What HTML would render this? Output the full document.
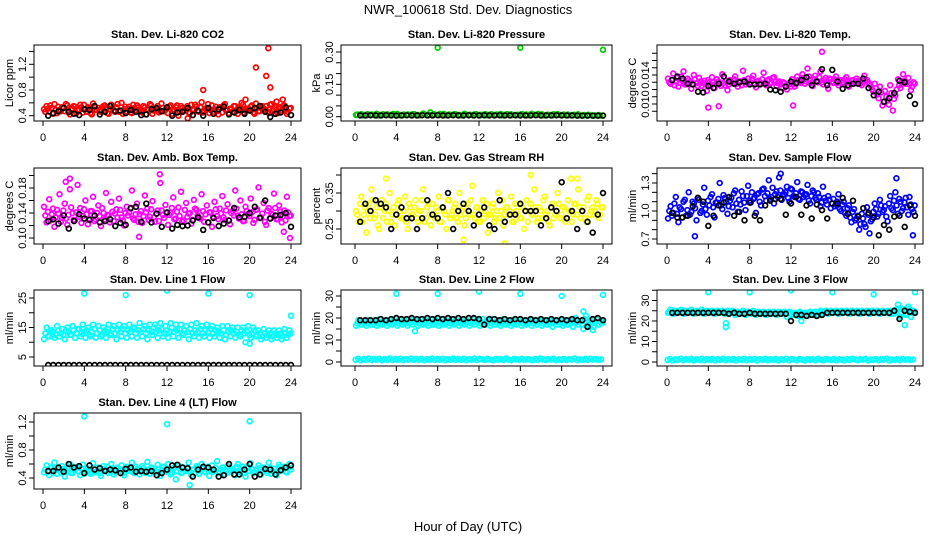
<!DOCTYPE html>
<html><head><meta charset="utf-8"><style>
body{margin:0;background:#fff;}
svg{display:block;font-family:"Liberation Sans",sans-serif;}
</style></head><body>
<svg id="c" width="936" height="540" viewBox="0 0 936 540">
<text x="468" y="14" font-size="13" text-anchor="middle">NWR_100618  Std. Dev. Diagnostics</text>
<text x="468" y="531" font-size="13" text-anchor="middle">Hour of Day (UTC)</text>
</svg>
<script>
const xTickLabels = [0,4,8,12,16,20,24];
const co2Main = [.50,.55,.46,.52,.58,.44,.49,.53,.47,.56,.42,.51,.54,.48,.57,.45,.50,.53,.44,.59,.49,.52,.46,.55,.51,.43,.57,.48,.53,.46,.60,.50,.47,.54,.44,.52,.56,.49,.45,.53,.50,.58,.43,.51,.55,.47,.52,.49,.44,.56,.50,.53,.40,.55,.47,.51,.45,.57,.49,.54,.46,.61,.48,.52,.44,.56,.50,.47,.53,.45,.58,.49,.51,.46,.55,.43,.52,.57,.48,.50,.54,.45,.59,.47,.52,.49,.55,.44,.58,.50,.46,.53,.48,.56,.43,.51];
const co2Alt = [.46,.51,.56,.43,.49,.54,.47,.52,.58,.45,.50,.55,.44,.48,.53,.57,.46,.51,.42,.55,.49,.47,.53,.56,.44,.50,.52,.46,.58,.48,.43,.54,.51,.45,.57,.49,.53,.47,.55,.42,.50,.56,.48,.52,.45,.59,.47,.51,.54,.43,.49,.56,.46,.52,.48,.55,.44,.50,.57,.47,.53,.45,.51,.58,.49,.46,.54,.42,.52,.56,.48,.44,.50,.55,.47,.53,.60,.45,.51,.49,.56,.43,.52,.47,.55,.50,.46,.57,.48,.53,.44,.51,.55,.49,.46,.52];
const co2Black = [.40,.44,.47,.52,.46,.43,.41,.50,.49,.55,.42,.46,.55,.47,.48,.44,.49,.46,.41,.42,.50,.52,.47,.53,.40,.45,.46,.52,.41,.48,.40,.52,.43,.50,.54,.42,.45,.49,.43,.48,.52,.55,.46,.38,.43,.45,.53,.41];
const co2OutX = [15.5,19.6,20.6,21.6,21.8,22.0,22.6,23.2,14.0];
const co2OutY = [0.80,0.65,1.15,1.02,1.45,0.84,0.62,0.65,0.36];

const presMain = [.008,.012,.006,.010,.014,.007,.011,.009,.013,.006,.010,.012,.008,.015,.009,.011,.007,.013,.010,.012,.008,.014,.009,.011,.006,.012,.010,.008,.013,.009,.011,.007,.012,.010,.014,.008,.011,.009,.006,.012,.008,.010,.007,.011,.006,.009,.005,.008];
const presAlt = [.010,.007,.012,.009,.006,.011,.008,.013,.007,.010,.009,.012,.006,.011,.008,.010,.013,.007,.009,.011,.006,.010,.008,.012,.009,.007,.011,.010,.006,.012,.008,.009,.011,.007,.010,.013,.006,.009,.011,.008,.010,.007,.009,.006,.008,.007,.006,.005];
const presBlack = [.006,.006,.007,.006,.006,.007,.006,.005,.006,.007,.006,.006,.007,.006,.006,.007,.006,.006,.007,.006,.006,.007,.006,.006,.007,.006,.006,.007,.006,.006,.007,.006,.006,.006,.007,.006,.006,.006,.007,.006,.006,.006,.005,.005,.005,.005,.005,.005];
const presOutX = [7.3,8,16,24];
const presOutY = [0.02,0.32,0.32,0.31];

const tempMain = [.0135,.0128,.0142,.0131,.0124,.0138,.0145,.0127,.0133,.0121,.0140,.0129,.0136,.0125,.0132,.0118,.0130,.0137,.0122,.0134,.0128,.0141,.0126,.0119,.0133,.0129,.0138,.0124,.0131,.0146,.0127,.0135,.0130,.0139,.0123,.0132,.0128,.0143,.0126,.0134,.0130,.0137,.0125,.0131,.0122,.0129,.0120,.0127,.0134,.0124,.0138,.0131,.0141,.0128,.0149,.0133,.0125,.0139,.0130,.0145,.0127,.0136,.0121,.0134,.0129,.0138,.0126,.0133,.0130,.0137,.0124,.0132,.0128,.0135,.0131,.0126,.0139,.0133,.0127,.0120,.0128,.0113,.0124,.0098,.0118,.0105,.0126,.0091,.0112,.0134,.0122,.0141,.0128,.0136,.0119,.0130];
const tempAlt = [.0130,.0133,.0126,.0136,.0129,.0132,.0127,.0135,.0130,.0128,.0134,.0125,.0131,.0129,.0127,.0133,.0126,.0130,.0128,.0131,.0125,.0129,.0132,.0127,.0130,.0134,.0128,.0131,.0126,.0133,.0130,.0128,.0135,.0127,.0131,.0129,.0134,.0130,.0132,.0128,.0136,.0131,.0129,.0127,.0130,.0125,.0128,.0124,.0130,.0127,.0133,.0129,.0136,.0131,.0138,.0129,.0134,.0132,.0137,.0130,.0133,.0128,.0135,.0131,.0134,.0129,.0132,.0130,.0134,.0131,.0129,.0133,.0130,.0132,.0128,.0131,.0133,.0130,.0125,.0117,.0122,.0108,.0116,.0103,.0110,.0099,.0115,.0107,.0120,.0126,.0129,.0132,.0130,.0127,.0124,.0128];
const tempBlack = [.0133,.0138,.0135,.0128,.0127,.0117,.0116,.0125,.0122,.0128,.0138,.0131,.0128,.0130,.0131,.0127,.0127,.0127,.0128,.0120,.0119,.0117,.0124,.0131,.0129,.0133,.0137,.0126,.0131,.0148,.0126,.0147,.0131,.0121,.0126,.0128,.0128,.0135,.0122,.0112,.0117,.0103,.0108,.0115,.0132,.0130,.0111,.0100];
const tempOutX = [4,5,12.2,15];
const tempOutY = [0.0095,0.0097,0.0098,0.0172];

const ambMain = [.150,.125,.162,.138,.118,.145,.170,.132,.155,.121,.178,.140,.128,.185,.148,.135,.160,.122,.143,.166,.130,.152,.119,.140,.172,.136,.158,.127,.146,.163,.133,.120,.150,.141,.176,.129,.155,.138,.124,.168,.147,.134,.159,.126,.144,.188,.137,.153,.121,.140,.165,.131,.149,.174,.128,.156,.139,.123,.161,.145,.132,.170,.126,.152,.141,.118,.158,.135,.147,.167,.129,.154,.122,.143,.176,.136,.160,.127,.150,.138,.163,.124,.145,.181,.133,.156,.121,.148,.139,.171,.130,.152,.125,.144,.166,.135];
const ambAlt = [.136,.142,.128,.147,.133,.139,.126,.144,.131,.137,.149,.129,.141,.134,.124,.146,.138,.131,.143,.127,.140,.135,.148,.130,.137,.125,.142,.139,.133,.145,.128,.140,.136,.147,.131,.138,.126,.143,.135,.141,.129,.146,.133,.139,.127,.144,.132,.140,.137,.148,.130,.142,.135,.126,.145,.134,.140,.129,.147,.136,.131,.143,.138,.125,.141,.134,.146,.130,.139,.133,.144,.128,.140,.136,.147,.131,.138,.127,.143,.135,.141,.129,.146,.133,.139,.126,.144,.132,.137,.148,.130,.142,.135,.128,.141,.136];
const ambBlack = [.127,.130,.123,.136,.115,.127,.138,.131,.129,.136,.125,.127,.130,.119,.124,.121,.148,.150,.126,.155,.125,.139,.118,.141,.115,.121,.119,.120,.128,.133,.113,.125,.132,.119,.123,.128,.148,.133,.134,.140,.150,.132,.160,.131,.136,.137,.140,.118];
const ambOutX = [2.2,2.6,11.3,9.3,23.3,23.9];
const ambOutY = [0.190,0.195,0.202,0.102,0.110,0.100];

const rhMain = [.30,.27,.34,.29,.24,.32,.36,.28,.31,.25,.33,.30,.27,.35,.29,.26,.32,.30,.28,.34,.25,.31,.29,.33,.27,.30,.36,.28,.32,.26,.29,.31,.34,.27,.30,.25,.33,.29,.31,.28,.35,.30,.26,.32,.29,.37,.28,.31,.27,.33,.30,.24,.29,.32,.28,.35,.30,.26,.31,.29,.34,.27,.30,.32,.28,.25,.33,.30,.29,.36,.27,.31,.28,.34,.30,.26,.32,.29,.35,.28,.31,.27,.33,.30,.29,.32,.36,.28,.31,.27,.34,.30,.29,.33,.28,.31];
const rhAlt = [.29,.32,.27,.31,.30,.28,.33,.29,.26,.31,.28,.32,.30,.27,.31,.29,.33,.28,.30,.27,.32,.29,.31,.28,.30,.33,.27,.31,.29,.32,.28,.30,.27,.31,.29,.33,.28,.30,.32,.27,.29,.31,.28,.30,.33,.29,.31,.27,.30,.28,.32,.29,.31,.27,.30,.28,.33,.29,.31,.30,.27,.32,.29,.28,.31,.30,.27,.32,.29,.31,.28,.30,.33,.29,.27,.31,.28,.30,.32,.29,.31,.28,.30,.27,.32,.29,.31,.30,.28,.33,.29,.31,.30,.32,.29,.31];
const rhBlack = [.27,.32,.30,.33,.32,.31,.25,.29,.31,.28,.28,.25,.28,.33,.29,.28,.31,.35,.25,.30,.32,.30,.26,.29,.31,.26,.25,.33,.27,.29,.29,.32,.30,.30,.30,.26,.28,.31,.30,.38,.28,.30,.25,.30,.27,.24,.29,.35];
const rhOutX = [3.0,10.5,14.5,17.0,20.9,21.5];
const rhOutY = [0.39,0.22,0.21,0.40,0.39,0.39];

const flowMain = [.92,1.05,.98,1.15,.88,1.02,1.10,.95,1.20,.99,1.08,.90,1.12,1.00,1.25,.96,1.06,1.18,.93,1.09,1.30,1.02,1.14,.97,1.11,1.04,1.22,.99,1.07,1.16,1.01,1.27,1.09,1.13,.98,1.19,1.06,1.24,1.11,1.33,1.15,1.08,1.21,1.36,1.12,1.18,1.26,1.10,1.23,1.15,1.31,1.12,1.20,1.17,1.28,1.08,1.22,1.14,1.19,1.05,1.26,1.11,1.16,1.03,1.13,1.07,1.18,1.00,1.10,.95,1.06,.88,1.02,.92,.80,.97,.86,1.04,.76,.91,1.08,.94,1.12,.99,1.05,.89,1.16,1.01,1.20,.97,1.10,1.03,1.14,.96,1.07,.99];
const flowAlt = [1.00,.95,1.08,.97,1.04,.93,1.12,1.01,.96,1.10,1.03,1.14,.98,1.07,1.02,1.11,1.15,1.04,1.09,1.13,1.06,1.17,1.10,1.05,1.14,1.19,1.08,1.12,1.21,1.09,1.16,1.11,1.20,1.14,1.18,1.10,1.23,1.16,1.19,1.13,1.25,1.18,1.15,1.22,1.17,1.20,1.14,1.24,1.16,1.19,1.13,1.21,1.15,1.18,1.11,1.16,1.20,1.12,1.15,1.09,1.14,1.07,1.12,1.08,1.05,1.10,1.02,1.07,.98,1.03,.93,.99,.90,.95,.86,.92,.83,.96,.89,.99,1.02,.97,1.06,1.01,.94,1.08,1.03,1.11,1.06,1.13,1.00,1.09,1.04,1.15,1.02,1.06];
const flowBlack = [.98,.93,.93,.95,1.05,1.14,1.10,.84,.95,1.06,1.09,1.15,.95,.99,.90,1.09,.95,.90,1.06,1.11,1.13,1.13,.96,1.08,1.15,.96,1.06,.92,1.07,1.01,.92,1.08,1.08,1.14,.97,1.11,.94,1.03,.98,.93,.74,.85,.80,.94,.95,.83,1.06,.95];
const flowOutX = [2.7,11.0,22.2,23.8];
const flowOutY = [0.73,1.40,1.35,0.74];

const l1Main = [11,15,12,14,11.5,15.5,12,14.5,11,15,12.5,15.5,11.5,14.5,12,16,11.5,15,12,16,11.5,15.5,12,15,11.5,16,12.5,15.5,11,16,12,15.5,11.5,16,12,15,11.5,16.5,12,15.5,11,16,12.5,16,11.5,16.5,12,15.5,11.5,16.5,12,16,11.5,16,12.5,15.5,11,16,12,16.5,11.5,15.5,12,16,11.5,15.5,12,15,11.5,15.5,11,15.5,12,15,11.5,15,12,15,10,15.5,11.5,15,12,14,11,14.5,11.5,14,11,14,11.5,14,11,14.5,11.5,14];
const l1Alt = [13,12,14,13.5,12.5,14,13,12.5,14,13.5,12.5,14,13,14.5,13,13.5,14,12.5,13.5,14.5,13,14,12.5,14,13.5,13,14.5,13,14,13.5,14.5,13,14,13.5,15,13,14,13.5,14.5,13,14,13.5,15,13.5,14,14.5,13,14,13.5,15,13.5,14,14.5,13,14,13.5,14.5,13,14,13.5,14.5,13,14,13.5,14.5,13,14,13.5,13,14,12.5,13.5,14,13,13.5,12.5,14,13,13.5,12.5,13,14,12.5,13,12,13,12.5,13,12,13,12.5,13,12,13,12.5,13];
const l1Black = [2.3,2.3,2.3,2.3,2.3,2.3,2.3,2.3,2.3,2.3,2.3,2.3,2.3,2.3,2.3,2.3,2.3,2.3,2.3,2.3,2.3,2.3,2.3,2.3,2.3,2.3,2.3,2.3,2.3,2.3,2.3,2.3,2.3,2.3,2.3,2.3,2.3,2.3,2.3,2.3,2.3,2.3,2.3,2.3,2.3,2.3,2.3,2.3];
const l1OutX = [4,8,12,16,20,24,20];
const l1OutY = [26.5,26,27.5,26.5,26,19,9.5];

const l2Main = [16.5,19,17,18.5,16.5,19,17,18.5,16.5,19.5,17,18.5,16.5,19,17,19,16.5,19.5,17,19,16.5,19.5,17,19,16.5,19.5,17,19,16.5,19.5,17,19,16.5,19.5,17,19,16.5,19.5,17,19,16.5,19.5,17,19,16.5,19.5,17,19,16.5,19.5,17,19,16.5,19.5,17,19,16.5,19.5,17,19,16.5,19,17,19,16.5,19,17,19,16.5,19,17,19,16.5,19,17,19,16,19,17,19,16.5,19,17,19,16,20,17,18.5,15,21,17,19,16,19.5,17,19];
const l2Alt = [17.5,18,17.8,18.2,17.6,18,17.9,18.3,17.5,18.1,17.8,18.4,17.6,18,17.9,18.2,17.5,18.3,17.8,18,17.6,18.4,17.9,18.1,17.5,18.2,17.8,18.3,17.6,18,17.9,18.4,17.5,18.1,17.8,18.2,17.6,18.3,17.9,18,17.5,18.4,17.8,18.1,17.6,18.2,17.9,18.3,17.5,18,17.8,18.4,17.6,18.1,17.9,18.2,17.5,18.3,17.8,18,17.6,18.4,17.9,18.1,17.5,18.2,17.8,18.3,17.6,18,17.9,18.4,17.5,18.1,17.8,18.2,17.6,18.3,17.9,18,17.5,18.4,17.8,18.1,17.6,18.2,18.5,17,19.5,16.5,18.5,17.5,18,17,18.5,17.8];
const l2Low = [1,1.5,0.8,1.3,1,1.6,0.9,1.4,1,1.5,0.8,1.3,1,1.6,0.9,1.4,1,1.5,0.8,1.3,1,1.6,0.9,1.4,1,1.5,0.8,1.3,1,1.6,0.9,1.4,1,1.5,0.8,1.3,1,1.6,0.9,1.4,1,1.5,0.8,1.3,1,1.6,0.9,1.4,1.2,0.9,1.5,1.1,0.8,1.4,1.0,1.3,0.9,1.6,1.1,0.8,1.4,1.2,1.0,1.5,0.9,1.3,1.1,0.8,1.4,1.0,1.6,1.2,0.9,1.3,1.1,1.5,0.8,1.2,1.0,1.4,0.9,1.3,1.1,1.6,0.8,1.2,1.0,1.4,0.9,1.5,1.1,1.3,1.0,1.2];
const l2Black = [19,19,19,19,19.5,19,19.5,20,19.5,19.5,20,19.5,19.5,20,19.5,20,19.5,20,19.5,20,19.5,20,20,19.5,17,19.5,19.5,19,19.5,19,19.5,19.5,19,19.5,19,19.5,19,19.5,19,19.5,19,19.5,19,19,16,19.5,20,19];
const l2OutX = [4,8,12,16,20,24,5.8,22.1,23];
const l2OutY = [31,31,32,31,30,30.5,14,23,14.5];

const l3Main = [24,25.5,23.5,25,24,25.5,23.5,25,24,25.5,23.5,25,24,25.5,23.5,25,24,25,23.5,25,24,25,23.5,25,24,25,23,24.5,23.5,25,23,24.5,23.5,25,23,24.5,23.5,24.5,23,24.5,23.5,24.5,23,24.5,23.5,24.5,22,24.5,23,24,22.5,24.5,23,24,22.5,24.5,23,24.5,23,25,23.5,25,23.5,25,24,25,23.5,25,24,25,23.5,25,24,25,23.5,25,24,25,23.5,25,24,25,23.5,25,24,25,23.5,25,24,28,22,26,23,27,22,25];
const l3Alt = [24.6,24.3,24.8,24.4,24.7,24.2,24.6,24.4,24.8,24.3,24.5,24.7,24.2,24.6,24.4,24.8,24.3,24.5,24.1,24.6,24.3,24.4,24.1,24.5,24.2,23.9,24.3,24.1,23.8,24.2,24.0,23.7,24.1,23.9,24.2,23.8,24.0,23.7,24.1,23.9,23.6,24.0,23.8,23.5,24.0,23.7,23.9,23.6,23.8,23.5,24.0,23.7,23.9,23.6,24.1,23.8,24.2,24.0,24.4,24.1,24.3,24.0,24.5,24.2,24.4,24.1,24.6,24.3,24.5,24.2,24.6,24.4,24.3,24.6,24.2,24.5,24.3,24.7,24.4,24.2,24.6,24.3,24.8,24.4,24.5,24.2,24.9,23.5,25.5,26,24,25,23.5,26,24,24.5];
const l3Low = [1,1.5,0.8,1.3,1,1.6,0.9,1.4,1,1.5,0.8,1.3,1,1.6,0.9,1.4,1,1.5,0.8,1.3,1,1.6,0.9,1.4,1,1.5,0.8,1.3,1,1.6,0.9,1.4,1,1.5,0.8,1.3,1,1.6,0.9,1.4,1,1.5,0.8,1.3,1,1.6,0.9,1.4,1.2,0.9,1.5,1.1,0.8,1.4,1.0,1.3,0.9,1.6,1.1,0.8,1.4,1.2,1.0,1.5,0.9,1.3,1.1,0.8,1.4,1.0,1.6,1.2,0.9,1.3,1.1,1.5,0.8,1.2,1.0,1.4,0.9,1.3,1.1,1.6,0.8,1.2,1.0,1.4,0.9,1.5,1.1,1.3,1.0,1.2];
const l3Black = [24,24,24,24,24,24,24,24,24,24,24,23.5,24,23.5,23.5,24,23.5,23.5,23.5,23.5,23.5,23.5,23.5,20,23,23,22.5,23,22.5,23,24,24,24,24,24,24,24,24,24,24,24,24,24,25,21,25,24.5,24];
const l3OutX = [4,8,12,16,20,24,5.7,5.7,13,23];
const l3OutY = [34,34,35,34,33,34,17,19,20,18];

const l4Main = [.48,.58,.44,.55,.62,.46,.52,.57,.42,.54,.60,.47,.51,.56,.44,.59,.50,.53,.46,.61,.48,.55,.43,.57,.52,.47,.60,.45,.54,.49,.58,.44,.56,.51,.62,.47,.53,.45,.57,.50,.63,.46,.54,.48,.59,.43,.56,.51,.60,.45,.53,.38,.58,.47,.55,.50,.62,.44,.52,.57,.46,.60,.49,.54,.43,.58,.51,.64,.47,.55,.45,.57,.50,.53,.44,.60,.48,.56,.42,.54,.61,.47,.52,.58,.45,.55,.50,.62,.46,.53,.44,.59,.51,.56,.48,.60];
const l4Alt = [.52,.49,.55,.47,.51,.54,.48,.53,.50,.56,.47,.52,.55,.49,.53,.46,.54,.51,.48,.55,.50,.47,.53,.51,.56,.49,.52,.48,.55,.51,.47,.54,.50,.53,.48,.56,.51,.49,.54,.47,.52,.55,.50,.48,.53,.51,.56,.49,.52,.47,.55,.50,.53,.48,.51,.54,.49,.52,.47,.55,.50,.53,.48,.56,.51,.49,.54,.47,.52,.55,.50,.48,.53,.51,.56,.49,.52,.47,.55,.50,.53,.48,.51,.54,.49,.52,.47,.55,.50,.53,.48,.56,.51,.49,.54,.52];
const l4Black = [.50,.50,.55,.49,.60,.55,.57,.47,.58,.52,.54,.50,.52,.51,.47,.53,.55,.49,.50,.49,.50,.44,.47,.52,.58,.59,.55,.54,.42,.52,.56,.55,.52,.42,.44,.60,.45,.45,.52,.60,.42,.45,.53,.52,.45,.51,.55,.58];
const l4OutX = [4,12,20,14.2];
const l4OutY = [1.28,1.17,1.21,0.30];

const svg = document.getElementById('c');
const NS = 'http://www.w3.org/2000/svg';
function mk(tag, attrs, parent){ const e=document.createElementNS(NS,tag); for(const k in attrs) e.setAttribute(k,attrs[k]); (parent||svg).appendChild(e); return e; }

const COLX = [{l:34,r:301,x0:43},{l:341,r:612,x0:355},{l:657,r:923,x0:667}];
const ROWY = [{t:45,b:121},{t:168,b:244},{t:290,b:366},{t:413,b:489}];
const PXH = 248/24;

const panels = [
 {id:'co2',title:'Stan. Dev. Li-820 CO2',ylab:'Licor ppm',col:0,row:0,color:'#ff0000',r:[0.4,115.7,1.2,64.3],ticks:[0.4,0.6,0.8,1.0,1.2,1.4],labels:[0.4,0.8,1.2],dec:1,main:co2Main,alt:co2Alt,black:co2Black,ox:co2OutX,oy:co2OutY},
 {id:'pressure',title:'Stan. Dev. Li-820 Pressure',ylab:'kPa',col:1,row:0,color:'#00cc00',r:[0,116.7,0.3,52],ticks:[0,0.05,0.1,0.15,0.2,0.25,0.3],labels:[0,0.15,0.3],dec:2,main:presMain,alt:presAlt,black:presBlack,ox:presOutX,oy:presOutY},
 {id:'temp',title:'Stan. Dev. Li-820 Temp.',ylab:'degrees C',col:2,row:0,color:'#ff00ff',r:[0.010,104,0.014,75],ticks:[0.009,0.010,0.011,0.012,0.013,0.014,0.015,0.016,0.017],labels:[0.010,0.014],dec:3,main:tempMain,alt:tempAlt,black:tempBlack,ox:tempOutX,oy:tempOutY},
 {id:'amb-box-temp',title:'Stan. Dev. Amb. Box Temp.',ylab:'degrees C',col:0,row:1,color:'#ff00ff',r:[0.10,238,0.14,213],ticks:[0.10,0.12,0.14,0.16,0.18,0.20],labels:[0.10,0.14,0.18],dec:2,main:ambMain,alt:ambAlt,black:ambBlack,ox:ambOutX,oy:ambOutY},
 {id:'gas-rh',title:'Stan. Dev. Gas Stream RH',ylab:'percent',col:1,row:1,color:'#ffff00',r:[0.25,229,0.35,193],ticks:[0.25,0.30,0.35,0.40],labels:[0.25,0.35],dec:2,main:rhMain,alt:rhAlt,black:rhBlack,ox:rhOutX,oy:rhOutY},
 {id:'sample-flow',title:'Stan. Dev. Sample Flow',ylab:'ml/min',col:2,row:1,color:'#0000ff',r:[0.7,239,1.3,183],ticks:[0.7,0.8,0.9,1.0,1.1,1.2,1.3,1.4],labels:[0.7,1.0,1.3],dec:1,main:flowMain,alt:flowAlt,black:flowBlack,ox:flowOutX,oy:flowOutY},
 {id:'line1-flow',title:'Stan. Dev. Line 1 Flow',ylab:'ml/min',col:0,row:2,color:'#00ffff',r:[5,357,25,298],ticks:[5,10,15,20,25,30],labels:[5,15,25],dec:0,main:l1Main,alt:l1Alt,black:l1Black,ox:l1OutX,oy:l1OutY},
 {id:'line2-flow',title:'Stan. Dev. Line 2 Flow',ylab:'ml/min',col:1,row:2,color:'#00ffff',r:[0,362,30,296],ticks:[0,5,10,15,20,25,30],labels:[0,10,20,30],dec:0,main:l2Main,alt:l2Alt,low:l2Low,black:l2Black,ox:l2OutX,oy:l2OutY},
 {id:'line3-flow',title:'Stan. Dev. Line 3 Flow',ylab:'ml/min',col:2,row:2,color:'#00ffff',r:[0,362,30,300.5],ticks:[0,5,10,15,20,25,30,35],labels:[0,10,20,30],dec:0,main:l3Main,alt:l3Alt,low:l3Low,black:l3Black,ox:l3OutX,oy:l3OutY},
 {id:'line4-flow',title:'Stan. Dev. Line 4 (LT) Flow',ylab:'ml/min',col:0,row:3,color:'#00ffff',r:[0.4,478,1.2,422],ticks:[0.4,0.6,0.8,1.0,1.2],labels:[0.4,0.8,1.2],dec:1,main:l4Main,alt:l4Alt,black:l4Black,ox:l4OutX,oy:l4OutY}
];

panels.forEach(p=>{
  const C=COLX[p.col], R=ROWY[p.row];
  const g=mk('g',{});
  
  
  const xs = h => C.x0 + h*PXH;
  const ys = v => p.r[1] + (v-p.r[0])*(p.r[3]-p.r[1])/(p.r[2]-p.r[0]);
  const clip = mk('clipPath',{id:'cl-'+p.id},g);
  mk('rect',{x:C.l,y:R.t,width:C.r-C.l,height:R.b-R.t},clip);
  const t=mk('text',{x:(C.l+C.r)/2,y:R.t-7,'font-size':11,'font-weight':'bold','text-anchor':'middle'},g);
  t.textContent=p.title;
  
  
  const yl=mk('text',{x:0,y:0,'font-size':11,'text-anchor':'middle',transform:`translate(${C.l-21},${(R.t+R.b)/2}) rotate(-90)`},g);
  yl.textContent=p.ylab;
  
  
  const pts=mk('g',{'clip-path':`url(#cl-${p.id})`,fill:'none','stroke-width':1.7},g);
  
  
  function dot(h,v,col,name){
    const c=mk('circle',{cx:xs(h).toFixed(1),cy:ys(v).toFixed(1),r:2.4,stroke:col},pts);
    
    
  }
  p.main.forEach((v,i)=>dot(i*24/p.main.length+0.1,v,p.color,'main-point'));
  p.alt.forEach((v,i)=>dot(i*24/p.alt.length+0.22,v,p.color,'main-point'));
  if(p.low) p.low.forEach((v,i)=>dot(i*24/(p.low.length-1)*0.99+0.05,v,p.color,'low-point'));
  p.ox.forEach((h,i)=>dot(h,p.oy[i],p.color,'outlier-point'));
  p.black.forEach((v,i)=>dot(0.5+i*23.5/(p.black.length-1),v,'#000','hourly-point'));
  const b=mk('rect',{x:C.l,y:R.t,width:C.r-C.l,height:R.b-R.t,fill:'none',stroke:'#000','stroke-width':1},g);
  
  
  xTickLabels.forEach(h=>{
    const x=xs(h);
    mk('line',{x1:x,x2:x,y1:R.b,y2:R.b+5,stroke:'#000'},g);
    const tl=mk('text',{x:x,y:R.b+20,'font-size':11,'text-anchor':'middle'},g);
    tl.textContent=h;
    
    
  });
  p.ticks.forEach(v=>{
    const y=ys(v); if(y<R.t-0.5||y>R.b+0.5) return;
    mk('line',{x1:C.l-5,x2:C.l,y1:y,y2:y,stroke:'#000'},g);
  });
  p.labels.forEach(v=>{
    const y=ys(v);
    const tl=mk('text',{x:0,y:0,'font-size':11,'text-anchor':'middle',transform:`translate(${C.l-8},${y}) rotate(-90)`},g);
    tl.textContent=v.toFixed(p.dec);
    
    
  });
});
</script>
</body></html>
